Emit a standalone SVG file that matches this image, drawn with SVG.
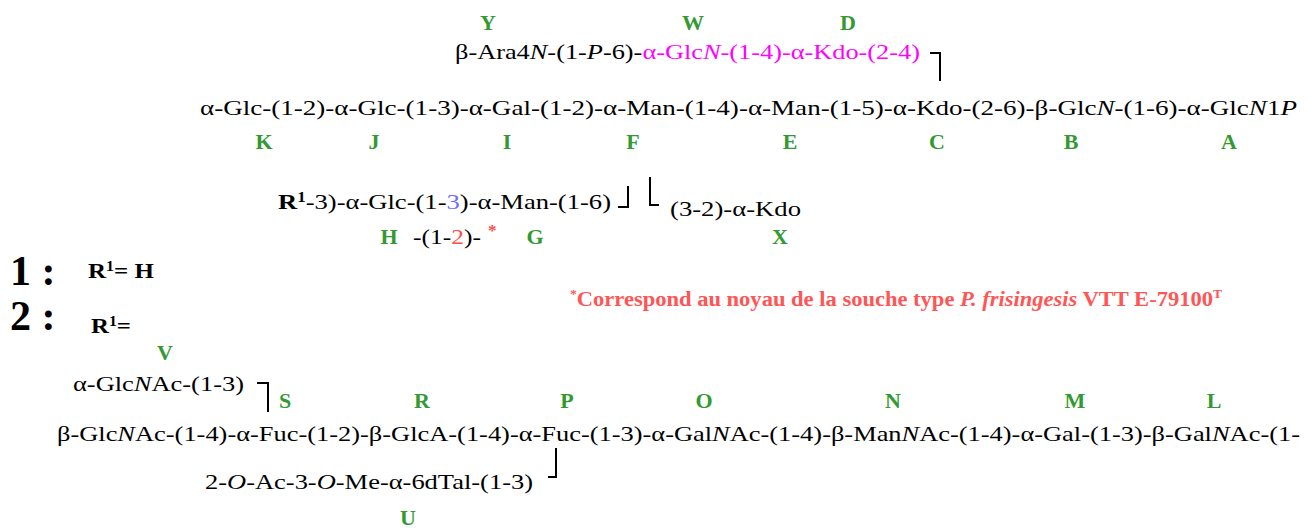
<svg xmlns="http://www.w3.org/2000/svg" width="1314" height="531" viewBox="0 0 1314 531">
<style>
text{font-family:"Liberation Serif","Times New Roman",serif;fill:#000}
.ch{font-size:22px}
.lb{font-size:22px;font-weight:bold;fill:#339933;text-anchor:middle}
.i{font-style:italic}
.mg{fill:#ff00ff}
.bl{fill:#6f6fff}
.rd{fill:#ff4c4c}
.fn{font-size:20px;font-weight:bold;fill:#ff5555}
.big{font-size:42px;font-weight:bold}
.br{fill:none;stroke:#000;stroke-width:2}
</style>
<rect width="1314" height="531" fill="#fff"/>
<g id="connectors">
<polyline class="br" points="930,53 940,53 940,81"/>
<polyline class="br" points="628,186 628,207 618,207"/>
<polyline class="br" points="650,177 650,205 659,205"/>
<polyline class="br" points="257,383 268,383 268,412"/>
<polyline class="br" points="556,448 556,477 548,477"/>
</g>
<g id="labels">
<text class="lb" x="488" y="30">Y</text>
<text class="lb" x="693" y="30">W</text>
<text class="lb" x="848" y="30">D</text>
<text class="lb" x="264" y="149">K</text>
<text class="lb" x="374" y="149">J</text>
<text class="lb" x="507" y="149">I</text>
<text class="lb" x="633" y="149">F</text>
<text class="lb" x="790" y="149">E</text>
<text class="lb" x="937" y="149">C</text>
<text class="lb" x="1071" y="149">B</text>
<text class="lb" x="1229" y="149">A</text>
<text class="lb" x="389" y="244">H</text>
<text class="lb" x="535" y="244">G</text>
<text class="lb" x="780" y="244">X</text>
<text class="lb" x="165" y="360">V</text>
<text class="lb" x="285" y="408">S</text>
<text class="lb" x="422" y="408">R</text>
<text class="lb" x="567" y="408">P</text>
<text class="lb" x="704" y="408">O</text>
<text class="lb" x="893" y="408">N</text>
<text class="lb" x="1075" y="408">M</text>
<text class="lb" x="1214" y="408">L</text>
<text class="lb" x="408" y="525">U</text>
</g>
<g id="top-chain">
<text class="ch" x="455" y="59" textLength="465" lengthAdjust="spacingAndGlyphs">β-Ara4<tspan class="i">N</tspan>-(1-<tspan class="i">P</tspan>-6)-<tspan class="mg">α-Glc</tspan><tspan class="mg i">N</tspan><tspan class="mg">-(1-4)-α-Kdo-(2-4)</tspan></text>
</g>
<g id="main-chain">
<text class="ch" x="200" y="115" textLength="1097" lengthAdjust="spacingAndGlyphs">α-Glc-(1-2)-α-Glc-(1-3)-α-Gal-(1-2)-α-Man-(1-4)-α-Man-(1-5)-α-Kdo-(2-6)-β-Glc<tspan class="i">N</tspan>-(1-6)-α-Glc<tspan class="i">N</tspan>1<tspan class="i">P</tspan></text>
</g>
<g id="branch-glc-man">
<text class="ch" x="278" y="209" textLength="333" lengthAdjust="spacingAndGlyphs"><tspan font-weight="bold">R</tspan><tspan font-size="14" dy="-7" font-weight="bold">1</tspan><tspan dy="7">-3)-α-Glc-(1-</tspan><tspan class="bl">3</tspan>)-α-Man-(1-6)</text>
</g>
<g id="branch-kdo">
<text class="ch" x="670" y="216" textLength="131" lengthAdjust="spacingAndGlyphs">(3-2)-α-Kdo</text>
</g>
<g id="alt-link">
<text class="ch" x="413" y="244" font-size="20" textLength="68" lengthAdjust="spacingAndGlyphs">-(1-<tspan class="rd">2</tspan>)-</text>
<text x="488" y="236" font-size="17" font-weight="bold" style="fill:#ff4c4c">*</text>
</g>
<g id="legend-1">
<text class="big" x="10" y="285">1 :</text>
<text x="88" y="278" font-size="22" font-weight="bold" textLength="66" lengthAdjust="spacingAndGlyphs">R<tspan font-size="14" dy="-7">1</tspan><tspan dy="7">= H</tspan></text>
</g>
<g id="legend-2">
<text class="big" x="10" y="330">2 :</text>
<text x="91" y="333" font-size="22" font-weight="bold" textLength="40" lengthAdjust="spacingAndGlyphs">R<tspan font-size="14" dy="-7">1</tspan><tspan dy="7">=</tspan></text>
</g>
<g id="footnote">
<text class="fn" x="570" y="306" textLength="652" lengthAdjust="spacingAndGlyphs"><tspan font-size="12" dy="-8">*</tspan><tspan dy="8">Correspond au noyau de la souche type </tspan><tspan class="i">P. frisingesis</tspan> VTT E-79100<tspan font-size="12" dy="-8">T</tspan></text>
</g>
<g id="branch-glcnac">
<text class="ch" x="73" y="391" textLength="171" lengthAdjust="spacingAndGlyphs">α-Glc<tspan class="i">N</tspan>Ac-(1-3)</text>
</g>
<g id="o-chain">
<text class="ch" x="57" y="441" textLength="1243" lengthAdjust="spacingAndGlyphs">β-Glc<tspan class="i">N</tspan>Ac-(1-4)-α-Fuc-(1-2)-β-GlcA-(1-4)-α-Fuc-(1-3)-α-Gal<tspan class="i">N</tspan>Ac-(1-4)-β-Man<tspan class="i">N</tspan>Ac-(1-4)-α-Gal-(1-3)-β-Gal<tspan class="i">N</tspan>Ac-(1-</text>
</g>
<g id="branch-6dtal">
<text class="ch" x="205" y="489" textLength="328" lengthAdjust="spacingAndGlyphs">2-<tspan class="i">O</tspan>-Ac-3-<tspan class="i">O</tspan>-Me-α-6dTal-(1-3)</text>
</g>
</svg>
